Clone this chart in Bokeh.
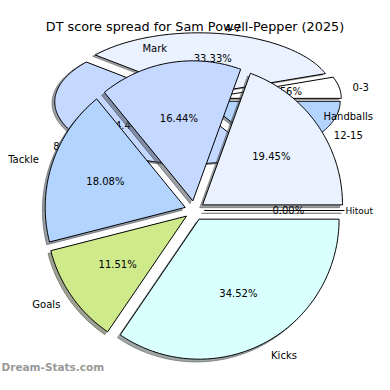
import numpy as np
from bokeh.plotting import figure
from bokeh.models import Range1d
from bokeh.embed import file_html
from bokeh.resources import INLINE
from bokeh.core.properties import value

# ---------------- data ----------------
title_text = "DT score spread for Sam Powell-Pepper (2025)"
watermark_text = "Dream-Stats.com"

# back pie: DT score bands (number of games)
band_labels = ["0-3", "4-7", "8-11", "12-15"]
band_counts = [1, 6, 8, 3]

# front pie: share of DT score by stat (%)
stat_labels = ["Hitout", "Handballs", "Mark", "Tackle", "Goals", "Kicks"]
stat_shares = [0.00, 19.45, 16.44, 18.08, 11.51, 34.52]

palette = ["#FFFFFF", "#EAF1FF", "#C5D8FF", "#B3D4FF", "#CFEA8B", "#D9FFFF"]

# ---------------- layout ----------------
SIZE = 374          # figure size (fits the window with margins)
FONT = value("DejaVu Sans")
LABEL_PX = 10
MIN_PX = 9
RIGHT_LIMIT = SIZE - 1.5

BACK_C = (196.5, 98.6)   # centre in picture pixels (x, y-down)
BACK_R = (135.0, 62.0)   # ellipse radii
FRONT_C = (194.0, 210.0)
FRONT_R = (140.0, 140.0)
EXPLODE = 0.07
LABEL_D = 1.1
PCT_D = 0.6
SHADOW = 0.02

# approximate DejaVu Sans advance widths (em)
EM = {"H": .752, "i": .278, "t": .392, "o": .612, "u": .634, "a": .613, "n": .634,
      "d": .635, "b": .635, "l": .278, "s": .521, "M": .863, "r": .411, "k": .579,
      "T": .611, "c": .550, "e": .615, "G": .775, "K": .656, "-": .361}

p = figure(width=SIZE, height=SIZE, x_range=Range1d(0, SIZE), y_range=Range1d(0, SIZE),
           output_backend="svg", toolbar_location=None, min_border=0,
           x_axis_location=None, y_axis_location=None, outline_line_color=None)
p.grid.visible = False
p.background_fill_color = "white"
p.border_fill_color = "white"


def shade(hexcol):
    h = hexcol.lstrip("#")
    rgb = [int(h[i:i + 2], 16) for i in (0, 2, 4)]
    return "#%02x%02x%02x" % tuple(int(round(0.3 * c)) for c in rgb)


def em_width(text):
    return sum(EM.get(ch, 0.636) for ch in text)


def draw_pie(vals, labels, centre, radii):
    cx, cy = centre[0], SIZE - centre[1]
    rx, ry = radii
    fr = np.asarray(vals, dtype=float) / float(np.sum(vals))
    th = np.concatenate([[0.0], np.cumsum(fr)]) * 2 * np.pi
    xs_l, ys_l, sx_l, sy_l, cols, scols = [], [], [], [], [], []
    lab = []
    pct_x, pct_y, pct_t = [], [], []
    for i in range(len(vals)):
        t1, t2 = th[i], th[i + 1]
        tm = 0.5 * (t1 + t2)
        ox = cx + rx * EXPLODE * np.cos(tm)
        oy = cy + ry * EXPLODE * np.sin(tm)
        n = max(2, int(np.degrees(t2 - t1)) + 2)
        ts = np.linspace(t1, t2, n)
        xs = np.concatenate([[ox], ox + rx * np.cos(ts)])
        ys = np.concatenate([[oy], oy + ry * np.sin(ts)])
        xs_l.append(list(xs)); ys_l.append(list(ys))
        sx_l.append(list(xs - SHADOW * rx)); sy_l.append(list(ys - SHADOW * ry))
        col = palette[i % len(palette)]
        cols.append(col); scols.append(shade(col))
        lx = ox + LABEL_D * rx * np.cos(tm)
        ly = oy + LABEL_D * ry * np.sin(tm)
        align = "left" if np.cos(tm) > 0 else "right"
        fpx = float(LABEL_PX)
        ew = em_width(labels[i])
        if align == "left" and lx + ew * fpx > RIGHT_LIMIT:
            outer = ox + rx * np.cos(tm) + 1.5
            fpx = max(MIN_PX, min(fpx, (RIGHT_LIMIT - outer) / ew))
            lx = min(lx, RIGHT_LIMIT - ew * fpx)
        lab.append((lx, ly, labels[i], align, fpx))
        pct_x.append(ox + PCT_D * rx * np.cos(tm))
        pct_y.append(oy + PCT_D * ry * np.sin(tm))
        pct_t.append("%.2f%%" % (fr[i] * 100))
    p.patches(sx_l, sy_l, fill_color=scols, fill_alpha=0.5, line_color=scols,
              line_alpha=0.5, line_width=1)
    p.patches(xs_l, ys_l, fill_color=cols, line_color="black", line_width=1)
    for x, y, t, a, f in lab:
        p.text([x], [y], text=[t], text_align=a, text_baseline="middle",
               text_font=FONT, text_font_size="%.1fpx" % f, text_color="black")
    p.text(pct_x, pct_y, text=pct_t, text_align="center", text_baseline="middle",
           text_font=FONT, text_font_size="%dpx" % LABEL_PX, text_color="black")


draw_pie(band_counts, band_labels, BACK_C, BACK_R)
draw_pie(stat_shares, stat_labels, FRONT_C, FRONT_R)

p.text([194.5], [SIZE - 26], text=[title_text], text_align="center", text_baseline="middle",
       text_font=FONT, text_font_size="12.8px", text_color="black")
p.text([1], [SIZE - 366], text=[watermark_text], text_align="left", text_baseline="middle",
       text_font=FONT, text_font_size="10.5px", text_font_style="bold", text_color="#999999")

open("out.html", "w").write(file_html(p, INLINE))
